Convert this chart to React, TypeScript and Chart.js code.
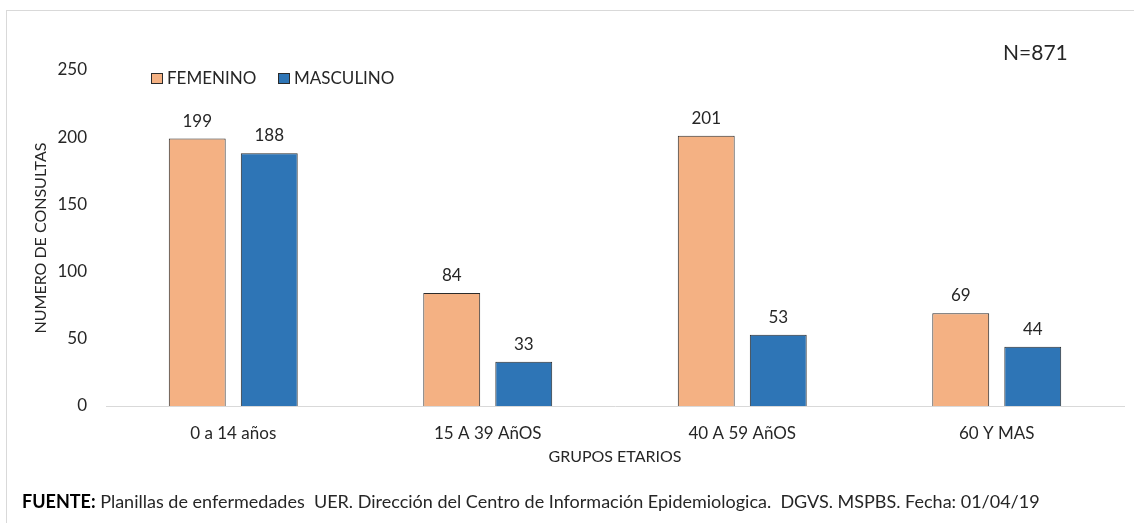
import React, { useEffect, useRef } from "react";
import { Chart, registerables } from "chart.js";

Chart.register(...registerables);

const categories = ["0 a 14 años", "15 A 39 AñOS", "40 A 59 AñOS", "60 Y MAS"];
const femenino = [199, 84, 201, 69];
const masculino = [188, 33, 53, 44];
const seriesNames = ["FEMENINO", "MASCULINO"];
const yTitle = "NUMERO DE CONSULTAS";
const xTitle = "GRUPOS ETARIOS";
const totalLabel = "N=871";
const sourceBold = "FUENTE:";
const sourceText = " Planillas de enfermedades  UER. Dirección del Centro de Información Epidemiologica.  DGVS. MSPBS. Fecha: 01/04/19";

const FONT = "Lato, 'Open Sans', sans-serif";
const ORANGE = "#F4B183";
const BLUE = "#2E75B6";
const TEXT = "#262626";
const EDGE = "#2b2b2b";

const extrasPlugin = {
  id: "extras",
  afterDraw(chart: any) {
    const ctx = chart.ctx;
    ctx.save();
    // outer frame
    ctx.strokeStyle = "#d9d9d9";
    ctx.lineWidth = 1;
    ctx.strokeRect(6.5, 10.5, 1400, 800);

    // data labels
    ctx.fillStyle = TEXT;
    ctx.font = `17px ${FONT}`;
    ctx.textAlign = "center";
    ctx.textBaseline = "alphabetic";
    chart.data.datasets.forEach((ds: any, i: number) => {
      const meta = chart.getDatasetMeta(i);
      meta.data.forEach((bar: any, j: number) => {
        ctx.fillText(String(ds.data[j]), bar.x, bar.y - 12);
      });
    });

    // legend
    const colors = [ORANGE, BLUE];
    const legendX = [151, 278];
    ctx.textAlign = "left";
    ctx.textBaseline = "middle";
    seriesNames.forEach((name, i) => {
      ctx.fillStyle = colors[i];
      ctx.fillRect(legendX[i] + 0.5, 73.5, 11, 10);
      ctx.strokeStyle = EDGE;
      ctx.strokeRect(legendX[i] + 0.5, 73.5, 11, 10);
      ctx.fillStyle = TEXT;
      ctx.fillText(name, legendX[i] + 16, 79);
    });

    // N label
    ctx.font = `21px ${FONT}`;
    ctx.fillStyle = TEXT;
    ctx.textAlign = "left";
    ctx.fillText(totalLabel, 1003, 53);

    // source
    ctx.fillStyle = "#000";
    ctx.font = `bold 18px ${FONT}`;
    ctx.fillText(sourceBold, 22, 502);
    const w = ctx.measureText(sourceBold).width;
    ctx.font = `18px ${FONT}`;
    ctx.fillStyle = TEXT;
    ctx.fillText(sourceText, 22 + w, 502);
    ctx.restore();
  },
};

export default function App() {
  const ref = useRef<HTMLCanvasElement>(null);
  useEffect(() => {
    if (!ref.current) return;
    const chart = new Chart(ref.current, {
      type: "bar",
      data: {
        labels: categories,
        datasets: [
          {
            label: seriesNames[0],
            data: femenino,
            backgroundColor: ORANGE,
            borderColor: EDGE,
            borderWidth: 1,
            categoryPercentage: 0.566,
            barPercentage: 0.79,
          },
          {
            label: seriesNames[1],
            data: masculino,
            backgroundColor: BLUE,
            borderColor: EDGE,
            borderWidth: 1,
            categoryPercentage: 0.566,
            barPercentage: 0.79,
          },
        ],
      },
      options: {
        responsive: false,
        animation: false,
        devicePixelRatio: 1,
        layout: { padding: { top: 70, left: 0, right: 10, bottom: 57 } },
        plugins: { legend: { display: false }, tooltip: { enabled: false } },
        scales: {
          x: {
            grid: { display: false, drawTicks: false },
            border: { display: true, color: "#d9d9d9", width: 1 },
            ticks: { color: TEXT, font: { family: FONT, size: 17 }, padding: 17 },
            title: {
              display: true,
              text: xTitle,
              color: TEXT,
              font: { family: FONT, size: 16 },
              padding: { top: 8, bottom: 0 },
            },
            afterFit: (s: any) => {
              s.height = 60;
            },
          },
          y: {
            min: 0,
            max: 250,
            grid: { display: false, drawTicks: false },
            border: { display: false },
            ticks: { stepSize: 50, color: TEXT, font: { family: FONT, size: 17 }, padding: 19 },
            title: {
              display: true,
              text: yTitle,
              color: TEXT,
              font: { family: FONT, size: 16 },
              padding: { top: 31, bottom: 0 },
            },
            afterFit: (s: any) => {
              s.width = 106;
            },
          },
        },
      },
      plugins: [extrasPlugin],
    });
    return () => chart.destroy();
  }, []);
  return (
    <div style={{ position: "absolute", left: 0, top: 0, width: 1134, height: 523, background: "#fff" }}>
      <canvas ref={ref} width={1134} height={523} style={{ display: "block" }} />
    </div>
  );
}
